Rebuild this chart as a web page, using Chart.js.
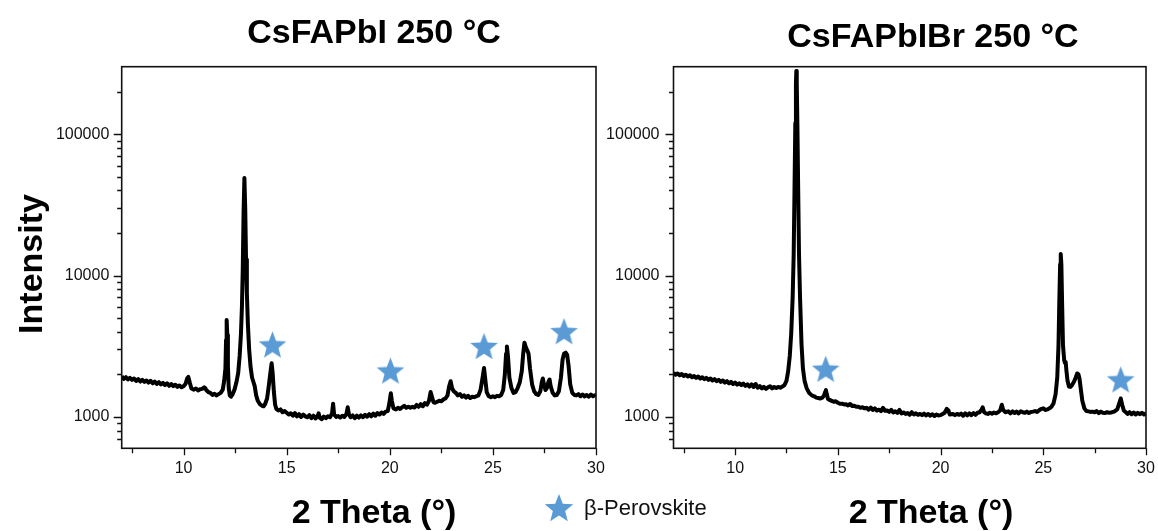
<!DOCTYPE html>
<html><head><meta charset="utf-8">
<script src="https://cdn.jsdelivr.net/npm/chart.js@4.4.1/dist/chart.umd.min.js"></script>
<style>
html,body{margin:0;padding:0;background:#fff;width:1158px;height:531px;overflow:hidden;}
#wrap{position:relative;width:1158px;height:531px;overflow:hidden;font-family:"Liberation Sans",Arial,sans-serif;color:#000;}
#wrap canvas{position:absolute;top:0;}
.t{position:absolute;font-weight:bold;font-size:34px;line-height:34px;white-space:nowrap;text-align:center;width:400px;}
#leg{position:absolute;left:584px;top:497px;font-size:22px;line-height:22px;color:#111;white-space:nowrap;}
</style></head>
<body><div id="wrap">
<canvas id="c1" width="611" height="531" style="left:0"></canvas>
<canvas id="c2" width="561" height="531" style="left:600px"></canvas>
<div class="t" style="left:174px;top:14px">CsFAPbI 250 °C</div>
<div class="t" style="left:733px;top:18px">CsFAPbIBr 250 °C</div>
<div class="t" style="left:174px;top:494px">2 Theta (°)</div>
<div class="t" style="left:731px;top:494px">2 Theta (°)</div>
<div class="t" style="left:-170px;top:247px;transform:rotate(-90deg);transform-origin:50% 50%">Intensity</div>
<canvas id="legStar" width="32" height="32" style="left:543px;top:493px"></canvas>
<div id="leg">β-Perovskite</div>
</div>
<script>
// ---------- data ----------
const leftTheta = [
7.0,7.1,7.2,7.3,7.4,7.5,7.6,7.7,7.8,7.9,
8.0,8.1,8.2,8.3,8.4,8.5,8.6,8.7,8.8,8.9,
9.0,9.1,9.2,9.3,9.4,9.5,9.6,9.7,9.8,9.9,
10.0,10.1,10.18,10.23,10.3,10.38,10.5,10.6,10.7,10.8,10.9,
11.0,11.05,11.1,11.2,11.3,11.4,11.5,11.6,11.7,11.8,11.9,11.97,
12.03,12.06,12.09,12.12,12.15,12.19,12.24,12.3,12.38,12.47,12.56,12.65,12.72,12.78,12.83,12.87,12.91,12.95,12.99,
13.03,13.07,13.12,13.18,13.25,13.32,13.38,13.45,13.52,13.6,13.7,13.8,13.88,13.95,
14.05,14.13,14.2,14.27,14.32,14.38,14.44,14.5,14.6,14.7,14.8,14.9,
15.0,15.1,15.2,15.3,15.4,15.5,15.6,15.7,15.8,15.9,
16.0,16.1,16.2,16.3,16.4,16.5,16.55,16.6,16.7,16.8,16.9,
17.0,17.1,17.2,17.25,17.3,17.4,17.5,17.6,17.7,17.8,17.9,17.96,
18.02,18.1,18.2,18.3,18.4,18.5,18.6,18.7,18.8,18.9,
19.0,19.1,19.2,19.3,19.4,19.5,19.6,19.7,19.8,19.9,
19.98,20.05,20.1,20.18,20.3,20.4,20.5,20.6,20.7,20.8,20.9,
21.0,21.1,21.2,21.3,21.4,21.5,21.6,21.7,21.8,21.9,
21.98,22.05,22.12,22.2,22.3,22.4,22.5,22.6,22.7,22.8,22.88,22.95,
23.02,23.1,23.2,23.3,23.4,23.5,23.6,23.7,23.8,23.9,
24.0,24.1,24.2,24.3,24.4,24.5,24.57,24.63,24.7,24.8,24.9,
25.0,25.1,25.2,25.3,25.4,25.5,25.58,25.64,25.68,25.73,25.8,25.9,
26.0,26.1,26.2,26.3,26.4,26.47,26.53,26.6,26.67,26.73,26.8,26.9,
27.0,27.1,27.2,27.3,27.37,27.42,27.48,27.55,27.62,27.7,27.75,27.8,27.9,
28.0,28.1,28.2,28.3,28.38,28.45,28.53,28.6,28.67,28.75,28.85,28.95,
29.05,29.15,29.25,29.35,29.45,29.55,29.65,29.75,29.85,29.95,30.0
];
const leftIntensity = [
1940,1860,1910,1840,1890,1830,1870,1800,1850,1780,
1830,1770,1810,1750,1800,1730,1780,1710,1760,1700,
1740,1680,1730,1660,1710,1650,1690,1630,1670,1620,
1650,1720,1880,1920,1750,1590,1560,1590,1540,1570,1580,
1620,1600,1550,1500,1480,1430,1460,1420,1450,1480,1560,1800,
2200,3500,4850,3800,2300,1600,1420,1390,1450,1560,1750,2050,2700,3800,6000,11000,28000,49000,30000,
13000,7500,4500,3000,2250,1900,1780,1650,1420,1300,1230,1200,1190,1230,
1350,1650,2000,2400,2050,1500,1220,1140,1110,1130,1080,1100,
1070,1040,1060,1020,1065,1010,1045,1000,1040,1010,
995,1030,980,1020,975,1015,1060,990,965,1005,980,
1010,995,1060,1240,1040,1000,1015,990,1020,1000,1050,1170,
1040,995,1025,980,1020,990,1025,995,1035,1005,
1045,1010,1055,1020,1065,1040,1075,1050,1090,1100,
1250,1470,1300,1150,1130,1160,1140,1170,1200,1160,1180,
1160,1180,1165,1215,1180,1230,1190,1250,1220,1300,
1500,1380,1270,1260,1280,1300,1290,1330,1350,1420,1650,1790,
1600,1520,1480,1420,1450,1390,1420,1370,1410,1360,
1390,1380,1400,1420,1550,1900,2220,1850,1500,1400,1380,
1400,1380,1410,1400,1430,1550,2000,2800,3150,2700,1900,1600,
1480,1500,1600,1750,2100,2800,3350,3100,2950,2800,2200,1700,
1520,1450,1430,1520,1750,1870,1700,1550,1600,1780,1840,1650,1480,
1420,1430,1520,1900,2550,2800,2850,2750,2300,1700,1480,1430,
1420,1450,1400,1440,1395,1430,1390,1440,1400,1425,1400
];
const rightTheta = [
7.0,7.1,7.2,7.3,7.4,7.5,7.6,7.7,7.8,7.9,
8.0,8.1,8.2,8.3,8.4,8.5,8.6,8.7,8.8,8.9,
9.0,9.1,9.2,9.3,9.4,9.5,9.6,9.7,9.8,9.9,
10.0,10.1,10.2,10.3,10.4,10.5,10.6,10.7,10.8,10.9,
11.0,11.1,11.2,11.3,11.4,11.5,11.6,11.7,11.8,11.9,
12.0,12.1,12.2,12.3,12.4,12.5,12.58,12.66,12.73,12.8,12.85,12.89,12.93,12.96,12.98,
13.0,13.03,13.07,13.11,13.16,13.23,13.3,13.38,13.48,13.6,13.73,13.85,13.95,
14.05,14.15,14.25,14.33,14.38,14.42,14.46,14.52,14.6,14.7,14.8,14.9,
15.0,15.1,15.2,15.3,15.4,15.5,15.6,15.7,15.8,15.9,
16.0,16.1,16.2,16.3,16.4,16.5,16.6,16.7,16.8,16.9,
17.0,17.1,17.2,17.3,17.4,17.5,17.6,17.7,17.8,17.9,
18.0,18.1,18.2,18.3,18.4,18.5,18.6,18.7,18.8,18.9,
19.0,19.1,19.2,19.3,19.4,19.5,19.6,19.7,19.8,19.9,
20.0,20.1,20.2,20.3,20.38,20.45,20.6,20.7,20.8,20.9,
21.0,21.1,21.2,21.3,21.4,21.5,21.6,21.7,21.8,21.9,
22.0,22.05,22.12,22.2,22.3,22.4,22.5,22.6,22.7,22.8,22.9,22.98,
23.05,23.15,23.3,23.4,23.5,23.6,23.7,23.8,23.9,
24.0,24.1,24.2,24.3,24.4,24.5,24.6,24.7,24.8,24.9,
25.0,25.1,25.2,25.3,25.4,25.5,25.6,25.68,25.74,25.78,25.82,25.85,25.88,25.92,25.96,
26.02,26.06,26.09,26.13,26.18,26.25,26.32,26.4,26.5,26.58,26.65,26.71,26.76,26.82,26.9,
27.0,27.1,27.2,27.3,27.4,27.5,27.6,27.7,27.8,27.9,
28.0,28.1,28.2,28.3,28.45,28.6,28.7,28.77,28.84,28.92,
29.0,29.1,29.2,29.3,29.4,29.5,29.6,29.7,29.8,29.9,30.0
];
const rightIntensity = [
2050,1990,2030,1970,2010,1950,1990,1930,1970,1910,
1950,1890,1930,1870,1910,1850,1890,1830,1870,1810,
1850,1790,1830,1770,1810,1750,1790,1730,1770,1710,
1750,1690,1730,1680,1720,1660,1700,1640,1700,1630,
1710,1610,1650,1590,1630,1580,1620,1650,1590,1630,
1600,1630,1610,1640,1680,1800,2100,2700,3900,7000,14000,40000,120000,230000,280000,
230000,120000,40000,14000,7000,3300,2200,1800,1600,1480,1420,1400,1370,
1360,1350,1370,1420,1500,1550,1450,1340,1320,1300,1280,1290,
1260,1240,1240,1225,1230,1205,1235,1195,1200,1180,
1180,1160,1170,1150,1160,1125,1165,1120,1150,1110,
1125,1100,1160,1105,1110,1085,1120,1075,1095,1070,
1120,1060,1075,1050,1065,1035,1080,1040,1060,1035,
1050,1030,1055,1025,1050,1020,1045,1015,1040,1025,
1030,1050,1070,1140,1110,1040,1050,1030,1050,1035,
1055,1020,1060,1025,1060,1030,1065,1035,1070,1080,
1130,1170,1080,1060,1050,1070,1055,1075,1060,1080,1110,1220,
1120,1080,1095,1060,1095,1065,1090,1060,1095,
1080,1070,1090,1065,1085,1090,1100,1085,1115,1140,
1150,1120,1130,1150,1180,1250,1450,1900,3200,6500,12000,14200,12000,6000,3200,
2500,2400,2450,2100,1800,1640,1630,1680,1780,1900,2030,2000,1880,1600,1300,
1150,1100,1095,1085,1090,1080,1100,1065,1090,1070,
1065,1080,1070,1075,1090,1130,1250,1350,1220,1110,
1085,1050,1080,1045,1075,1040,1070,1045,1070,1040,1060
];
const leftStarTheta = [14.31, 20.03, 24.57, 28.45];
const leftStarIntensity = [3180, 2080, 3100, 3950];
const rightStarTheta = [14.41, 28.77];
const rightStarIntensity = [2140, 1800];

const xTickValues = [7.5, 10, 12.5, 15, 17.5, 20, 22.5, 25, 27.5, 30];
const xLabelValues = [10, 15, 20, 25, 30];
const xTickLabels = ['10', '15', '20', '25', '30'];
const yTickValues = [600, 700, 800, 900, 1000, 2000, 3000, 4000, 5000, 6000, 7000, 8000, 9000,
  10000, 20000, 30000, 40000, 50000, 60000, 70000, 80000, 90000, 100000, 200000];
const yLabelValues = [1000, 10000, 100000];
const yTickLabels = ['1000', '10000', '100000'];

// ---------- drawing ----------
const FONT = '"Liberation Sans", Arial, sans-serif';
const STAR_COLOR = '#5B9BD5';

function makeStar(R, cnv) {
  const c = cnv || document.createElement('canvas');
  if (!cnv) { c.width = Math.ceil(2 * R + 2); c.height = Math.ceil(2 * R + 2); }
  const g = c.getContext('2d');
  const cx = c.width / 2, cy = c.height / 2;
  g.fillStyle = STAR_COLOR;
  g.beginPath();
  for (let i = 0; i < 10; i++) {
    const r = i % 2 ? R * 0.43 : R;
    const a = -Math.PI / 2 + i * Math.PI / 5;
    g.lineTo(cx + r * Math.cos(a), cy + r * Math.sin(a));
  }
  g.closePath();
  g.fill();
  return c;
}
const plotStar = makeStar(14.5);
makeStar(15, document.getElementById('legStar'));

const axisPlugin = {
  id: 'axisFrame',
  afterDraw(chart) {
    const { ctx, chartArea: a, scales: { x, y } } = chart;
    ctx.save();
    ctx.strokeStyle = '#111';
    ctx.lineWidth = 1.3;
    ctx.beginPath();
    xTickValues.forEach(v => {
      const px = Math.round(x.getPixelForValue(v)) + 0.5;
      const len = xLabelValues.includes(v) ? 7 : 5;
      ctx.moveTo(px, a.bottom); ctx.lineTo(px, a.bottom + len);
    });
    yTickValues.forEach(v => {
      const py = Math.round(y.getPixelForValue(v)) + 0.5;
      if (py < a.top || py > a.bottom) return;
      const len = yLabelValues.includes(v) ? 8 : 4.5;
      ctx.moveTo(a.left, py); ctx.lineTo(a.left - len, py);
    });
    ctx.stroke();
    ctx.lineWidth = 1.6;
    ctx.strokeRect(a.left, a.top, a.right - a.left, a.bottom - a.top);
    ctx.restore();
  }
};

function makeChart(id, theta, inten, sTheta, sInten, yWidth, padRight, yPad) {
  return new Chart(document.getElementById(id), {
    type: 'scatter',
    data: {
      datasets: [
        {
          label: 'pattern',
          data: theta.map((t, i) => ({ x: t, y: inten[i] })),
          showLine: true, borderColor: '#000', borderWidth: 4, pointRadius: 0,
          tension: 0, order: 2, borderJoinStyle: 'round'
        },
        {
          label: 'β-Perovskite',
          data: sTheta.map((t, i) => ({ x: t, y: sInten[i] })),
          pointStyle: plotStar, pointRadius: 14, showLine: false, order: 1
        }
      ]
    },
    options: {
      responsive: false, animation: false, devicePixelRatio: 1, events: [],
      layout: { padding: { left: 0, right: padRight, top: 66.7, bottom: 0 } },
      plugins: { legend: { display: false }, tooltip: { enabled: false }, title: { display: false } },
      scales: {
        x: {
          type: 'linear', min: 7, max: 30,
          afterBuildTicks: s => { s.ticks = xTickValues.map(v => ({ value: v })); },
          afterFit: s => { s.height = 531 - 448.3; s.paddingLeft = 0; s.paddingRight = 0; },
          grid: { display: false, drawTicks: false },
          border: { display: false },
          ticks: {
            autoSkip: false, maxRotation: 0, minRotation: 0, padding: 11, color: '#111',
            font: { family: FONT, size: 16 },
            callback: v => { const i = xLabelValues.indexOf(v); return i >= 0 ? xTickLabels[i] : ''; }
          }
        },
        y: {
          type: 'logarithmic', min: 600, max: 300000,
          afterBuildTicks: s => { s.ticks = yTickValues.map(v => ({ value: v })); },
          afterFit: s => { s.width = yWidth; s.paddingTop = 0; s.paddingBottom = 0; },
          grid: { display: false, drawTicks: false },
          border: { display: false },
          ticks: {
            autoSkip: false, padding: yPad, color: '#111',
            font: { family: FONT, size: 16 },
            callback: v => { const i = yLabelValues.indexOf(v); return i >= 0 ? yTickLabels[i] : ''; }
          }
        }
      }
    },
    plugins: [axisPlugin]
  });
}

makeChart('c1', leftTheta, leftIntensity, leftStarTheta, leftStarIntensity, 121.7, 15, 12.4);
makeChart('c2', rightTheta, rightIntensity, rightStarTheta, rightStarIntensity, 73.5, 15, 14);
</script>
</body></html>
